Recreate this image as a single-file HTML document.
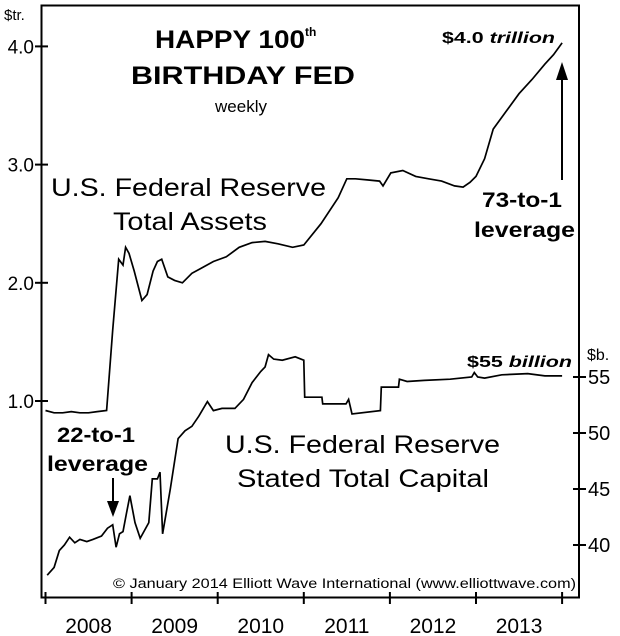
<!DOCTYPE html>
<html><head><meta charset="utf-8"><style>
body{margin:0;background:#fff}
svg{display:block;font-family:"Liberation Sans",Arial,sans-serif}
</style></head><body>
<svg width="620" height="636" viewBox="0 0 620 636">
<rect x="0" y="0" width="620" height="636" fill="#fff"/>
<rect x="41.5" y="5.5" width="537.5" height="592" fill="none" stroke="#000" stroke-width="2"/>
<g id="axes"></g>
<g id="series"></g>
<g fill="#000">
<text x="155" y="48" font-size="25" font-weight="bold"><tspan textLength="150" lengthAdjust="spacingAndGlyphs">HAPPY 100</tspan><tspan font-size="12" dy="-12">th</tspan></text>
<text x="131" y="84" font-size="25" font-weight="bold" textLength="224" lengthAdjust="spacingAndGlyphs">BIRTHDAY FED</text>
<text x="241" y="112" font-size="17" text-anchor="middle">weekly</text>
<text x="51" y="196" font-size="25" textLength="275" lengthAdjust="spacingAndGlyphs">U.S. Federal Reserve</text>
<text x="113" y="230" font-size="25" textLength="154" lengthAdjust="spacingAndGlyphs">Total Assets</text>
<text x="442" y="43" font-size="16" font-weight="bold" textLength="113" lengthAdjust="spacingAndGlyphs">$4.0 <tspan font-style="italic">trillion</tspan></text>
<text x="482" y="207" font-size="21" font-weight="bold" textLength="80" lengthAdjust="spacingAndGlyphs">73-to-1</text>
<text x="474" y="237" font-size="21" font-weight="bold" textLength="101" lengthAdjust="spacingAndGlyphs">leverage</text>
<text x="467" y="367" font-size="16" font-weight="bold" textLength="105" lengthAdjust="spacingAndGlyphs">$55 <tspan font-style="italic">billion</tspan></text>
<text x="57" y="442" font-size="21" font-weight="bold" textLength="78" lengthAdjust="spacingAndGlyphs">22-to-1</text>
<text x="47" y="471" font-size="21" font-weight="bold" textLength="101" lengthAdjust="spacingAndGlyphs">leverage</text>
<text x="225" y="453" font-size="25" textLength="275" lengthAdjust="spacingAndGlyphs">U.S. Federal Reserve</text>
<text x="237" y="487" font-size="25" textLength="252" lengthAdjust="spacingAndGlyphs">Stated Total Capital</text>
<text x="113" y="588" font-size="13.5" textLength="463" lengthAdjust="spacingAndGlyphs">© January 2014 Elliott Wave International (www.elliottwave.com)</text>
<text x="4" y="20" font-size="15">$tr.</text>
<text x="587" y="360" font-size="16">$b.</text>
</g>
<line x1="562" y1="180" x2="562" y2="78" stroke="#000" stroke-width="2"/>
<polygon points="556,80 568,80 562,62" fill="#000"/>
<line x1="113" y1="478" x2="113" y2="503" stroke="#000" stroke-width="2"/>
<polygon points="107,501 119,501 113,517" fill="#000"/>
</svg>
<script>
const years=["2008","2009","2010","2011","2012","2013"];
const leftTicks=[1.0,2.0,3.0,4.0];
const rightTicks=[40,45,50,55];
const assetT=[0,0.1,0.2,0.3,0.4,0.5,0.6,0.71,0.78,0.85,0.9,0.93,0.97,1.03,1.12,1.18,1.25,1.3,1.35,1.42,1.5,1.59,1.7,1.8,1.95,2.1,2.25,2.4,2.55,2.7,2.87,3.0,3.2,3.4,3.5,3.6,3.75,3.88,3.92,4.01,4.15,4.3,4.45,4.6,4.75,4.85,4.93,5.0,5.1,5.2,5.35,5.5,5.65,5.8,5.9,6.0];
const assetV=[0.92,0.9,0.9,0.91,0.9,0.9,0.91,0.92,1.6,2.2,2.15,2.3,2.25,2.1,1.85,1.9,2.1,2.18,2.2,2.05,2.02,2.0,2.08,2.12,2.18,2.22,2.3,2.34,2.35,2.33,2.3,2.32,2.5,2.72,2.88,2.88,2.87,2.86,2.82,2.93,2.95,2.9,2.88,2.86,2.82,2.81,2.85,2.9,3.05,3.3,3.45,3.6,3.72,3.85,3.93,4.03];
const capT=[0.02,0.1,0.16,0.22,0.28,0.34,0.4,0.48,0.55,0.65,0.72,0.78,0.82,0.86,0.9,0.94,0.98,1.04,1.1,1.2,1.24,1.3,1.33,1.36,1.45,1.54,1.62,1.7,1.78,1.88,1.95,2.05,2.2,2.3,2.4,2.5,2.55,2.59,2.65,2.75,2.9,3.0,3.01,3.21,3.22,3.49,3.52,3.56,3.89,3.9,4.1,4.11,4.2,4.4,4.7,4.95,4.98,5.02,5.1,5.3,5.6,5.8,6.0];
const capV=[37.3,38,39.5,40,40.7,40.2,40.5,40.3,40.5,40.8,41.5,41.8,39.8,41,41.2,42.8,44.4,42,40.6,42,45.9,45.9,46.5,41,45,49.5,50.2,50.6,51.5,52.8,52,52.2,52.2,53,54.5,55.5,55.9,57,56.6,56.5,56.8,56.5,53.2,53.2,52.6,52.6,53,51.7,52,54.1,54.1,54.8,54.6,54.7,54.8,55,55.4,55,54.9,55.2,55.3,55.1,55.1];
const NS="http://www.w3.org/2000/svg";
const xOf=t=>45.5+t*86.1;
const yL=v=>401-(v-1)*118.2;
const yR=v=>377-(v-55)*11.2;
function mk(tag,attrs,parent){const e=document.createElementNS(NS,tag);for(const k in attrs)e.setAttribute(k,attrs[k]);parent.appendChild(e);return e;}
const ax=document.getElementById('axes'),se=document.getElementById('series');
for(let i=0;i<=years.length;i++){
 const x=xOf(i);
 const tk=mk('line',{x1:x,y1:592,x2:x,y2:604,stroke:'#000','stroke-width':2},ax);
 
 
}
years.forEach((y,i)=>{
 const t=mk('text',{x:xOf(i+0.5),y:633,'font-size':21,'text-anchor':'middle'},ax);
 t.textContent=y;
 
 
});
leftTicks.forEach(v=>{
 const y=yL(v);
 const l=mk('line',{x1:35,y1:y,x2:48,y2:y,stroke:'#000','stroke-width':2},ax);
 
 
 const t=mk('text',{x:34,y:y+7,'font-size':19,'text-anchor':'end'},ax);
 t.textContent=v.toFixed(1);
 
 
});
rightTicks.forEach(v=>{
 const y=yR(v);
 const l=mk('line',{x1:573,y1:y,x2:586,y2:y,stroke:'#000','stroke-width':2},ax);
 
 
 const t=mk('text',{x:588,y:y+7,'font-size':20},ax);
 t.textContent=String(v);
 
 
});
const pa=mk('polyline',{points:assetT.map((t,i)=>xOf(t).toFixed(1)+','+yL(assetV[i]).toFixed(1)).join(' '),fill:'none',stroke:'#000','stroke-width':1.7},se);


const pc=mk('polyline',{points:capT.map((t,i)=>xOf(t).toFixed(1)+','+yR(capV[i]).toFixed(1)).join(' '),fill:'none',stroke:'#000','stroke-width':1.7},se);


</script>
</body></html>
